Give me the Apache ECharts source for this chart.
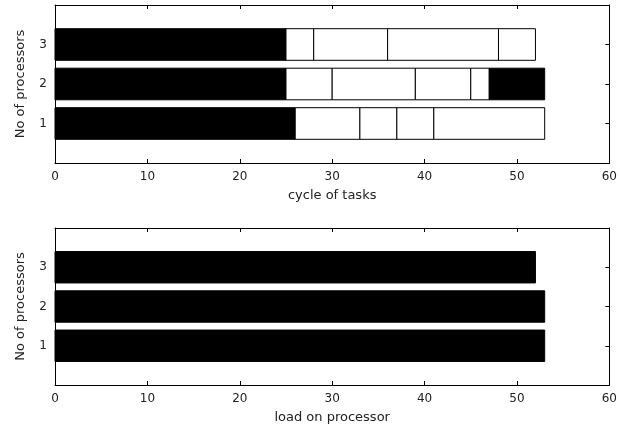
<!DOCTYPE html>
<html>
<head>
<meta charset="utf-8">
<script src="https://cdn.jsdelivr.net/npm/echarts@6/dist/echarts.min.js"></script>
<style>
  html, body { margin: 0; padding: 0; background: #fff; }
  #chart { width: 620px; height: 429px; }
</style>
</head>
<body>
<div id="chart"></div>
<script>
// segment end points per processor (cycle of tasks), and which ones are filled black
const processors = [1, 2, 3]
const p1Ends = [26, 33, 37, 41, 53]
const p1Black = [1, 0, 0, 0, 0]
const p2Ends = [25, 30, 39, 45, 47, 53]
const p2Black = [1, 0, 0, 0, 0, 1]
const p3Ends = [25, 28, 36, 48, 52]
const p3Black = [1, 0, 0, 0, 0]
// load on each processor
const loadValues = [53, 53, 52]

function segments(row, ends, black) {
  let out = []
  let start = 0
  ends.forEach((end, i) => {
    out.push([start, end, row, black[i]])
    start = end
  })
  return out
}

let taskData = []
  .concat(segments(processors[0], p1Ends, p1Black))
  .concat(segments(processors[1], p2Ends, p2Black))
  .concat(segments(processors[2], p3Ends, p3Black))

let loadData = loadValues.map((v, i) => [0, v, processors[i], 1])

function renderBar(params, api) {
  let a = api.coord([api.value(0), api.value(2)])
  let b = api.coord([api.value(1), api.value(2)])
  let h = api.size([0, 0.8])[1]
  return {
    type: 'rect',
    shape: { x: a[0], y: a[1] - h / 2, width: b[0] - a[0], height: h },
    style: {
      fill: api.value(3) ? '#000' : '#fff',
      stroke: '#000',
      lineWidth: 1
    }
  }
}

const font = 'DejaVu Sans'
const textColor = '#222'
const tick = { show: true, inside: true, length: 4, lineStyle: { color: '#000' } }
const line = { show: true, onZero: false, lineStyle: { color: '#000' } }

function xAxes(gridIndex, name) {
  return [
    {
      gridIndex: gridIndex,
      type: 'value',
      position: 'bottom',
      min: 0, max: 60, interval: 10,
      name: name,
      nameLocation: 'middle',
      nameGap: 26,
      nameTextStyle: { color: textColor, fontFamily: font, fontSize: 13 },
      axisLine: line,
      axisTick: tick,
      axisLabel: { color: textColor, fontFamily: font, fontSize: 12, margin: 8 },
      splitLine: { show: false }
    },
    {
      gridIndex: gridIndex,
      type: 'value',
      position: 'top',
      min: 0, max: 60, interval: 10,
      axisLine: line,
      axisTick: tick,
      axisLabel: { show: false },
      splitLine: { show: false }
    }
  ]
}

function yAxes(gridIndex) {
  return [
    {
      gridIndex: gridIndex,
      type: 'value',
      position: 'left',
      min: 0, max: 4, interval: 1,
      name: 'No of processors',
      nameLocation: 'middle',
      nameGap: 28,
      nameTextStyle: { color: textColor, fontFamily: font, fontSize: 13 },
      axisLine: line,
      axisTick: tick,
      axisLabel: {
        color: textColor, fontFamily: font, fontSize: 12, margin: 8,
        formatter: v => (processors.indexOf(v) >= 0 ? String(v) : '')
      },
      splitLine: { show: false }
    },
    {
      gridIndex: gridIndex,
      type: 'value',
      position: 'right',
      min: 0, max: 4, interval: 1,
      axisLine: line,
      axisTick: tick,
      axisLabel: { show: false },
      splitLine: { show: false }
    }
  ]
}

let myChart = echarts.init(document.getElementById('chart'))
let option = {
  animation: false,
  backgroundColor: '#fff',
  grid: [
    { left: 55, right: 8, top: 5, height: 158 },
    { left: 55, right: 8, top: 228, height: 157 }
  ],
  xAxis: xAxes(0, 'cycle of tasks').concat(xAxes(1, 'load on processor')),
  yAxis: yAxes(0).concat(yAxes(1)),
  series: [
    {
      type: 'custom',
      xAxisIndex: 0,
      yAxisIndex: 0,
      renderItem: renderBar,
      encode: { x: [0, 1], y: 2 },
      data: taskData
    },
    {
      type: 'custom',
      xAxisIndex: 2,
      yAxisIndex: 2,
      renderItem: renderBar,
      encode: { x: [0, 1], y: 2 },
      data: loadData
    }
  ]
}
myChart.setOption(option)

window.addEventListener('resize', () => {
  myChart.resize()
})
</script>
</body>
</html>
